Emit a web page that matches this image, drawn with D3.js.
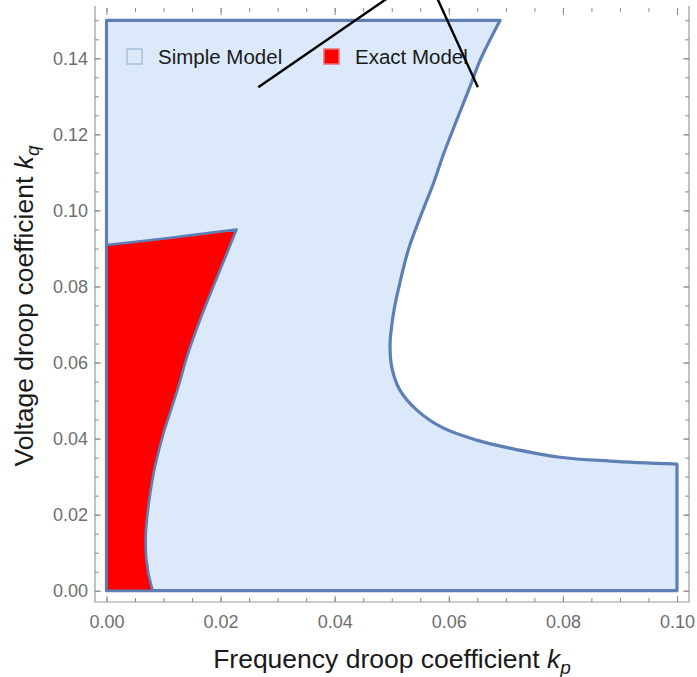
<!DOCTYPE html>
<html>
<head>
<meta charset="utf-8">
<script src="https://cdn.jsdelivr.net/npm/d3@7"></script>
<style>
  html, body { margin: 0; padding: 0; background: #fff; }
  svg { display: block; font-family: "Liberation Sans", Arial, sans-serif; }
</style>
</head>
<body>
<svg id="chart" width="697" height="677"></svg>
<script>
// ---- Data ----
const xTicks = [0.00, 0.02, 0.04, 0.06, 0.08, 0.10];
const yTicks = [0.00, 0.02, 0.04, 0.06, 0.08, 0.10, 0.12, 0.14];
const xMinorTicks = d3.range(0, 0.1001, 0.005);
const yMinorTicks = d3.range(0, 0.1501, 0.005);

// Simple model region: right boundary curve (kp, kq), from top corner down to kp = 0.10
const simpleBoundary = [
  [0.0690, 0.1500], [0.0655, 0.1395], [0.0637, 0.1325], [0.0614, 0.1238],
  [0.0590, 0.1145], [0.0573, 0.1071], [0.0550, 0.0983], [0.0529, 0.0896],
  [0.0514, 0.0808], [0.0504, 0.0738], [0.0499, 0.0685], [0.0497, 0.0648],
  [0.0500, 0.0588], [0.0514, 0.0528], [0.0544, 0.0475], [0.0590, 0.0428],
  [0.0649, 0.0396], [0.0707, 0.0375], [0.0795, 0.0351], [0.0883, 0.0341],
  [0.1000, 0.0333]
];
const simpleCorners = [[0.1000, 0.0000], [0.0000, 0.0000], [0.0000, 0.1500]];

// Exact model region: top edge and right edge
const exactTop = [[0.0000, 0.0909], [0.0106, 0.0927], [0.0228, 0.0950]];
const exactRight = [
  [0.0228, 0.0950], [0.0211, 0.0887], [0.0187, 0.0799], [0.0164, 0.0712],
  [0.0143, 0.0624], [0.0126, 0.0536], [0.0113, 0.0475], [0.0100, 0.0414],
  [0.0085, 0.0326], [0.0075, 0.0238], [0.0069, 0.0151], [0.0070, 0.0081],
  [0.0079, 0.0011], [0.0082, 0.0000]
];
const exactCorners = [[0.0000, 0.0000]];

// Annotation lines (data coordinates)
const annotLines = [
  [[0.0266, 0.1324], [0.0504, 0.1570]],
  [[0.0576, 0.1570], [0.0651, 0.1324]]
];

const legendItems = ["Simple Model", "Exact Model"];

// ---- Layout ----
const svg = d3.select("#chart");
const frame = { left: 95, right: 689, top: 8, bottom: 602 };
const x = d3.scaleLinear().domain([0, 0.1]).range([106.5, 677]);
const y = d3.scaleLinear().domain([0, 0.15]).range([590.7, 20.3]);

const blueFill = "#dbe9fb";
const blueStroke = "#5d7fb4";
const redFill = "#ff0000";

const line = d3.line().x(d => x(d[0])).y(d => y(d[1])).curve(d3.curveCatmullRom.alpha(0.5));
const pt = d => `L${x(d[0])},${y(d[1])}`;

// Simple region
const simplePath = line(simpleBoundary) + simpleCorners.map(pt).join("") + "Z";
svg.append("path").attr("d", simplePath)
  .attr("fill", blueFill).attr("stroke", blueStroke)
  .attr("stroke-width", 3.2).attr("stroke-linejoin", "round");

// Exact region
const exactPath = line(exactTop) + line(exactRight).replace(/^M/, "L") + exactCorners.map(pt).join("") + "Z";
svg.append("path").attr("d", exactPath)
  .attr("fill", redFill).attr("stroke", blueStroke)
  .attr("stroke-width", 2.6).attr("stroke-linejoin", "round");

// ---- Frame and axes ----
const axisColor = "#9a9a9a";
const g = svg.append("g");
g.append("path")
  .attr("d", `M${frame.left},${frame.top - 2}V${frame.bottom}H${frame.right}V${frame.top - 2}`)
  .attr("fill", "none").attr("stroke", axisColor).attr("stroke-width", 1.2);

function styleAxis(sel) {
  sel.select(".domain").remove();
  sel.selectAll(".tick line").attr("stroke", "#8a8a8a").attr("stroke-width", 1);
  sel.selectAll(".tick text").attr("fill", "#6e6e6e").attr("font-size", 18)
    .attr("font-family", "Liberation Sans, Arial, sans-serif");
}

// bottom
g.append("g").attr("transform", `translate(0,${frame.bottom})`)
  .call(d3.axisBottom(x).tickValues(xMinorTicks).tickSize(-4).tickFormat(""))
  .call(styleAxis);
g.append("g").attr("transform", `translate(0,${frame.bottom})`)
  .call(d3.axisBottom(x).tickValues(xTicks).tickSize(-6).tickPadding(13).tickFormat(d3.format(".2f")))
  .call(styleAxis);
// top
g.append("g").attr("transform", `translate(0,${frame.top})`)
  .call(d3.axisTop(x).tickValues(xMinorTicks).tickSize(-4).tickFormat(""))
  .call(styleAxis);
g.append("g").attr("transform", `translate(0,${frame.top})`)
  .call(d3.axisTop(x).tickValues(xTicks).tickSize(-7).tickFormat(""))
  .call(styleAxis);
// left
g.append("g").attr("transform", `translate(${frame.left},0)`)
  .call(d3.axisLeft(y).tickValues(yMinorTicks).tickSize(-4).tickFormat(""))
  .call(styleAxis);
g.append("g").attr("transform", `translate(${frame.left},0)`)
  .call(d3.axisLeft(y).tickValues(yTicks).tickSize(-6).tickPadding(7).tickFormat(d3.format(".2f")))
  .call(styleAxis);
// right
g.append("g").attr("transform", `translate(${frame.right},0)`)
  .call(d3.axisRight(y).tickValues(yMinorTicks).tickSize(-4).tickFormat(""))
  .call(styleAxis);
g.append("g").attr("transform", `translate(${frame.right},0)`)
  .call(d3.axisRight(y).tickValues(yTicks).tickSize(-6).tickFormat(""))
  .call(styleAxis);

// ---- Axis titles ----
const xt = svg.append("text")
  .attr("x", (frame.left + frame.right) / 2).attr("y", 668)
  .attr("text-anchor", "middle").attr("font-size", 26.5).attr("fill", "#1a1a1a");
xt.append("tspan").text("Frequency droop coefficient ");
xt.append("tspan").attr("font-style", "italic").text("k");
xt.append("tspan").attr("font-style", "italic").attr("font-size", 19).attr("dy", 6).text("p");

const yt = svg.append("text")
  .attr("transform", `translate(33,${(frame.top + frame.bottom) / 2 + 1}) rotate(-90)`)
  .attr("text-anchor", "middle").attr("font-size", 26.5).attr("fill", "#1a1a1a");
yt.append("tspan").text("Voltage droop coefficient ");
yt.append("tspan").attr("font-style", "italic").text("k");
yt.append("tspan").attr("font-style", "italic").attr("font-size", 19).attr("dy", 6).text("q");

// ---- Legend ----
const legend = svg.append("g").attr("font-size", 20.5).attr("fill", "#1a1a1a");
const legX = [126, 323];
legendItems.forEach((name, i) => {
  legend.append("rect").attr("x", legX[i] + 1).attr("y", 49).attr("width", 15).attr("height", 15)
    .attr("fill", i === 0 ? blueFill : redFill)
    .attr("stroke", i === 0 ? "#a8c0de" : "#e87070").attr("stroke-width", 1.5);
  legend.append("text").attr("x", legX[i] + 32).attr("y", 64).text(name);
});

// ---- Annotation lines ----
svg.selectAll(".annot").data(annotLines).enter().append("line")
  .attr("x1", d => x(d[0][0])).attr("y1", d => y(d[0][1]))
  .attr("x2", d => x(d[1][0])).attr("y2", d => y(d[1][1]))
  .attr("stroke", "#000").attr("stroke-width", 2.4);
</script>
</body>
</html>
